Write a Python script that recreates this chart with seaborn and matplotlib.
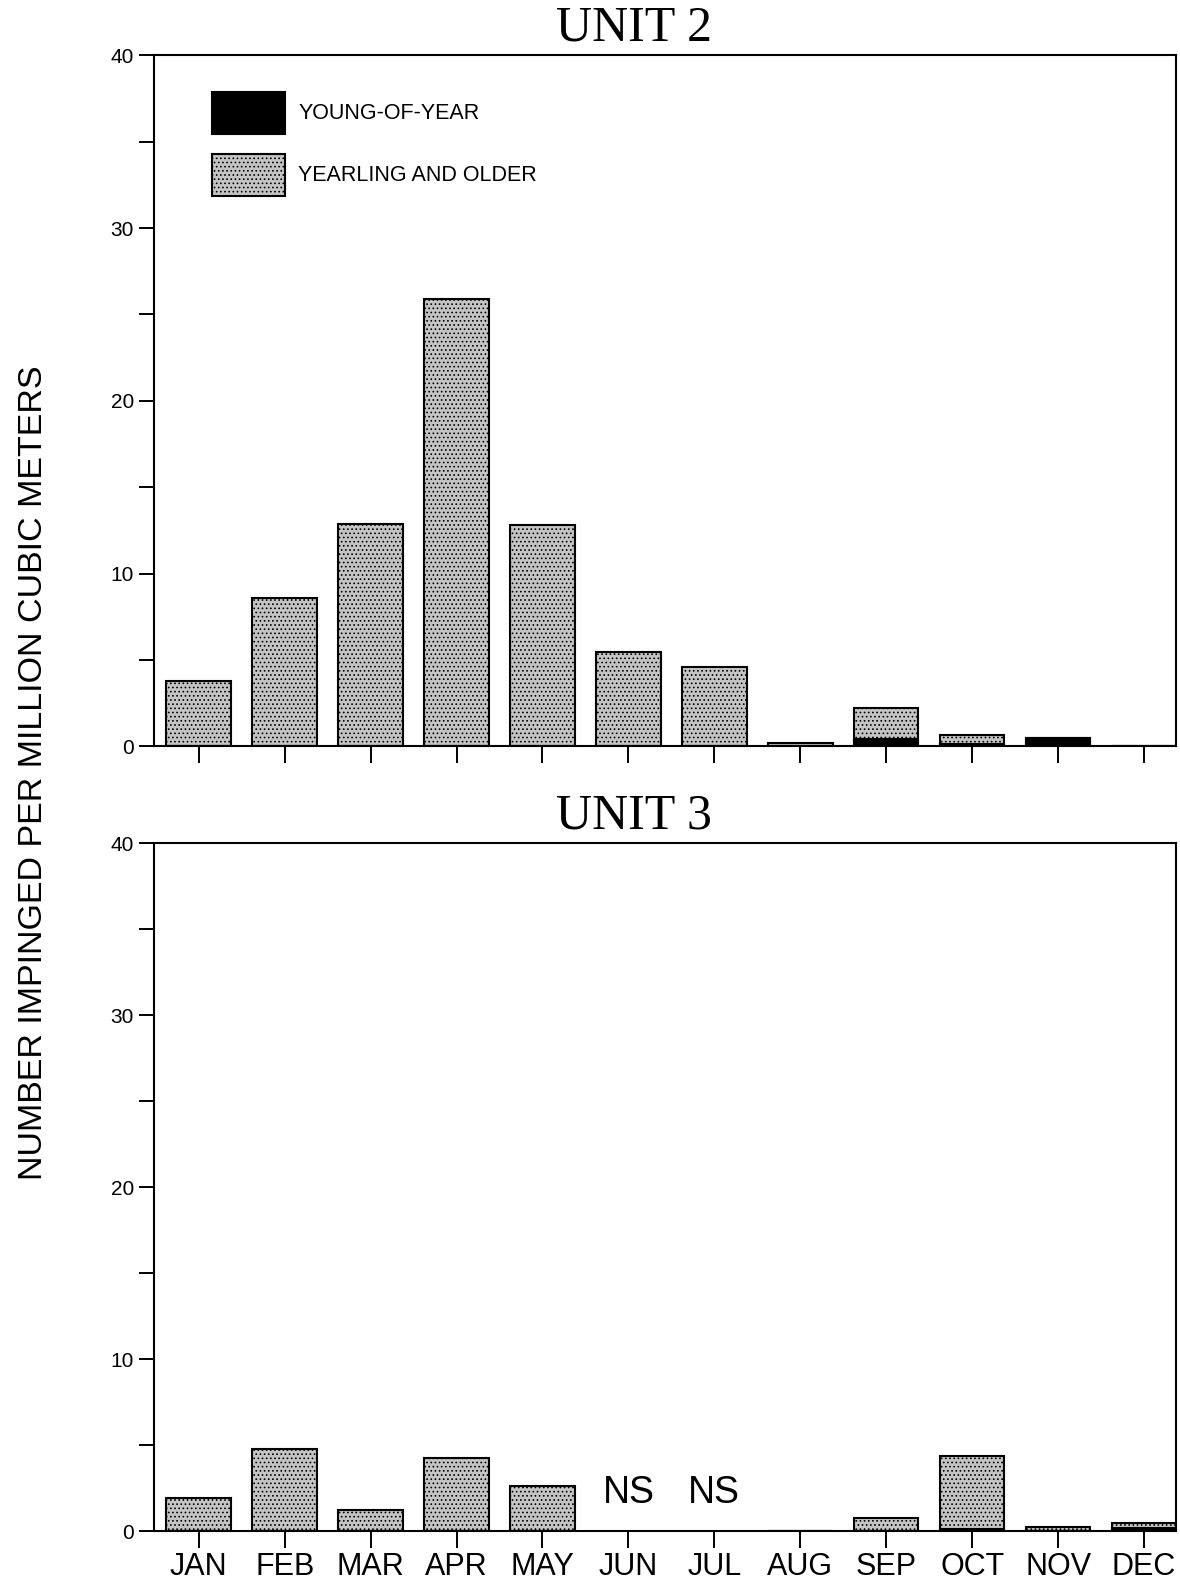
import numpy as np
import pandas as pd
import matplotlib
matplotlib.use("Agg")
import matplotlib.pyplot as plt
from matplotlib.patches import Patch
import seaborn as sns

months = ["JAN", "FEB", "MAR", "APR", "MAY", "JUN", "JUL", "AUG", "SEP", "OCT", "NOV", "DEC"]

# unit 2: total (young + yearling) and young-of-year part
u2_total = [3.75, 8.6, 12.85, 25.9, 12.8, 5.45, 4.6, 0.2, 2.2, 0.65, 0.45, 0.0]
u2_young = [0.0, 0.0, 0.0, 0.0, 0.0, 0.0, 0.0, 0.0, 0.4, 0.15, 0.45, 0.0]

# unit 3 (JUN, JUL not sampled)
u3_total = [1.9, 4.75, 1.25, 4.25, 2.6, np.nan, np.nan, 0.0, 0.75, 4.35, 0.25, 0.45]
u3_young = [0.0, 0.0, 0.0, 0.0, 0.0, np.nan, np.nan, 0.0, 0.0, 0.12, 0.0, 0.15]
ns_months = ["JUN", "JUL"]

sns.set_style("ticks")
plt.rcParams["font.family"] = ["Liberation Sans", "DejaVu Sans"]
plt.rcParams["hatch.linewidth"] = 0.7
for k in ["text.color", "axes.labelcolor", "xtick.color", "ytick.color", "axes.edgecolor"]:
    plt.rcParams[k] = "black"

fig = plt.figure(figsize=(11.8, 15.81), dpi=100)
ax1 = fig.add_axes([0.1305, 0.528, 0.866, 0.437])
ax2 = fig.add_axes([0.1305, 0.0316, 0.866, 0.435])

stipple = dict(color="#c4c4c4", edgecolor="black", hatch="....", linewidth=1.5)


def draw(ax, total, young, title):
    df = pd.DataFrame({"month": months, "total": total, "young": young})
    sns.barplot(data=df, x="month", y="total", order=months, width=0.75,
                ax=ax, **stipple)
    sns.barplot(data=df, x="month", y="young", order=months, width=0.75,
                ax=ax, color="black", edgecolor="black", linewidth=1.5)
    ax.set_ylim(0, 40)
    ax.set_xlim(-0.52, 11.37)
    ax.set_yticks([0, 10, 20, 30, 40])
    ax.set_yticks([5, 15, 25, 35], minor=True)
    ax.tick_params(axis="y", which="both", direction="out", length=11, width=1.4,
                   labelsize=15)
    ax.tick_params(axis="x", direction="out", length=12, width=1.4, labelsize=22, pad=3)
    for s in ax.spines.values():
        s.set_linewidth(1.5)
        s.set_visible(True)
    ax.set_xlabel("")
    ax.set_ylabel("")
    ax.text(0.47, 1.006, title, transform=ax.transAxes, ha="center", va="bottom",
            fontsize=36, family=["Liberation Serif", "DejaVu Serif"])


draw(ax1, u2_total, u2_young, "UNIT 2")
draw(ax2, u3_total, u3_young, "UNIT 3")
ax1.set_xticklabels([])

for m in ns_months:
    ax2.text(months.index(m), 2.2, "NS", ha="center", va="center", fontsize=27)

handles = [Patch(facecolor="black", edgecolor="black", linewidth=1.5),
           Patch(facecolor="#c4c4c4", edgecolor="black", hatch="....", linewidth=1.5)]
ax1.legend(handles, ["YOUNG-OF-YEAR", "YEARLING AND OLDER"], loc="upper left",
           bbox_to_anchor=(0.038, 0.975), frameon=False,
           handlelength=3.4, handleheight=2.6, labelspacing=0.95, handletextpad=0.6,
           prop={"family": ["Liberation Sans", "DejaVu Sans"], "size": 15.5})

fig.text(0.028, 0.511, "NUMBER IMPINGED PER MILLION CUBIC METERS", rotation=90,
         ha="center", va="center", fontsize=24.5,
         family=["Liberation Sans", "DejaVu Sans"])

fig.savefig("out.png", dpi=100)
